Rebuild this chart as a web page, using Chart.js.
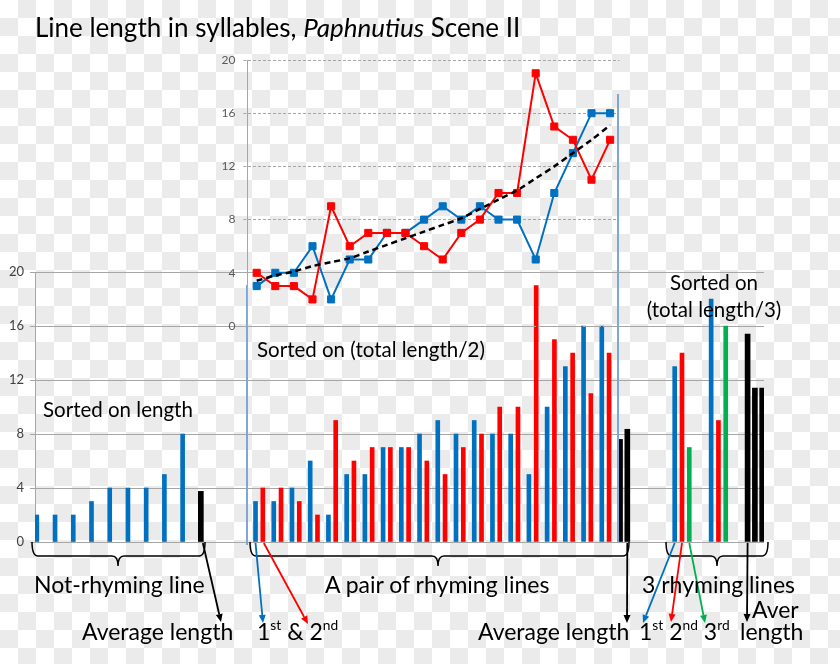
<!DOCTYPE html>
<html>
<head>
<meta charset="utf-8">
<title>Line length in syllables</title>
<script src="https://cdn.jsdelivr.net/npm/chart.js@4.4.1/dist/chart.umd.min.js"></script>
<style>
  html, body { margin: 0; padding: 0; }
  body {
    width: 840px; height: 664px; position: relative; overflow: hidden;
    background-color: #fff;
    background-image: conic-gradient(#ebebeb 0 25%, #fff 0 50%, #ebebeb 0 75%, #fff 0);
    background-size: 36px 36px;
    font-family: Lato, sans-serif; color: #000;
  }
  canvas { position: absolute; left: 0; top: 0; }
  .lab { position: absolute; white-space: nowrap; line-height: 1; }
  .big { font-size: 23px; }
  .mid { font-size: 20.5px; }
  sup { font-size: 0.6em; vertical-align: 0; position: relative; top: -0.7em; }
</style>
</head>
<body>
<canvas id="barChart" width="840" height="664"></canvas>
<canvas id="lineChart" width="840" height="664"></canvas>

<div class="lab" style="left:35px; top:14px; font-size:26px">Line length in syllables, <i>Paphnutius</i> Scene II</div>
<div class="lab mid" style="left:43px; top:399px">Sorted on length</div>
<div class="lab mid" style="left:257px; top:339px">Sorted on (total length/2)</div>
<div class="lab mid" style="left:634px; top:272px; width:160px; text-align:center">Sorted on</div>
<div class="lab mid" style="left:634px; top:299px; width:160px; text-align:center">(total length/3)</div>

<div class="lab big" style="left:34px; top:573px">Not-rhyming line</div>
<div class="lab big" style="left:325px; top:573px">A pair of rhyming lines</div>
<div class="lab big" style="left:642px; top:573px">3 rhyming lines</div>
<div class="lab big" style="left:82px; top:620px">Average length</div>
<div class="lab big" style="left:257px; top:620px">1<sup>st</sup> &amp; 2<sup>nd</sup></div>
<div class="lab big" style="left:478px; top:620px">Average length</div>
<div class="lab big" style="left:639px; top:620px">1<sup>st</sup> 2<sup>nd</sup> 3<sup>rd</sup></div>
<div class="lab big" style="left:752px; top:598px">Aver</div>
<div class="lab big" style="left:740px; top:620px">length</div>

<script>
// bar chart values (syllables)
const singleLines = [2, 2, 2, 3, 4, 4, 4, 5, 8]
const singleAvg = 3.75
const pairFirst = [3, 3, 4, 6, 2, 5, 5, 7, 7, 8, 9, 8, 9, 8, 8, 5, 10, 13, 16, 16]
const pairSecond = [4, 4, 3, 2, 9, 6, 7, 7, 7, 6, 5, 7, 8, 10, 10, 19, 15, 14, 11, 14]
const pairAvg = [7.6, 8.35]
const tripleFirst = [13, 18]
const tripleSecond = [14, 9]
const tripleThird = [7, 16]
const tripleAvg = [15.4, 11.4, 11.4]

// line chart values
const pairLabels = ["1", "2", "3", "4", "5", "6", "7", "8", "9", "10", "11", "12", "13", "14", "15", "16", "17", "18", "19", "20"]
const lineFirst = [3, 4, 4, 6, 2, 5, 5, 7, 7, 8, 9, 8, 9, 8, 8, 5, 10, 13, 16, 16]
const lineSecond = [4, 3, 3, 2, 9, 6, 7, 7, 7, 6, 5, 7, 8, 10, 10, 19, 15, 14, 11, 14]
const lineTrend = [3.4, 3.8, 4.1, 4.5, 4.8, 5.1, 5.6, 6.1, 6.6, 7.1, 7.6, 8.1, 8.8, 9.5, 10.2, 11.1, 12.0, 13.0, 14.0, 15.1]

const yTicks = [0, 4, 8, 12, 16, 20]

const BLUE = "#0070c0"
const RED = "#ff0000"
const GREEN = "#00b050"
const BLACK = "#000000"

Chart.defaults.font.family = "Lato"

// bottom chart: 200 narrow slots, groups placed in them
const SLOTS = 200
const slotLabels = []
for (let i = 0; i < SLOTS; i++) slotLabels.push("")

function emptySlots() {
    const arr = []
    for (let i = 0; i < SLOTS; i++) arr.push(null)
    return arr
}
const blueBars = emptySlots()
const redBars = emptySlots()
const greenBars = emptySlots()
const blackBars = emptySlots()

singleLines.forEach((v, k) => { blueBars[5 * k] = v })
blackBars[45] = singleAvg
pairFirst.forEach((v, k) => { blueBars[60 + 5 * k] = v })
pairSecond.forEach((v, k) => { redBars[62 + 5 * k] = v })
pairAvg.forEach((v, k) => { blackBars[160 + 2 * k] = v })
tripleFirst.forEach((v, k) => { blueBars[175 + 10 * k] = v })
tripleSecond.forEach((v, k) => { redBars[177 + 10 * k] = v })
tripleThird.forEach((v, k) => { greenBars[179 + 10 * k] = v })
tripleAvg.forEach((v, k) => { blackBars[195 + 2 * k] = v })

// arrows from the bars down to the labels
const arrows = [
    { slot: 45, dx: 2, to: [221, 622], color: BLACK },
    { slot: 60, dx: 0, to: [263, 623], color: BLUE },
    { slot: 62, dx: 1, to: [308, 624], color: RED },
    { slot: 162, dx: 0, to: [627, 623], color: BLACK },
    { slot: 175, dx: 0, to: [643, 623], color: BLUE },
    { slot: 177, dx: 0, to: [671, 622], color: RED },
    { slot: 179, dx: 0, to: [705, 623], color: GREEN },
    { slot: 195, dx: 0, to: [747, 622], color: BLACK }
]

function line(ctx, x1, y1, x2, y2) {
    ctx.beginPath()
    ctx.moveTo(x1, y1)
    ctx.lineTo(x2, y2)
    ctx.stroke()
}

function arrow(ctx, x1, y1, x2, y2, color) {
    const ang = Math.atan2(y2 - y1, x2 - x1)
    const len = 8, wid = 3.5
    const c = Math.cos(ang), s = Math.sin(ang)
    ctx.strokeStyle = color
    ctx.fillStyle = color
    ctx.lineWidth = 1.8
    line(ctx, x1, y1, x2 - c * len, y2 - s * len)
    ctx.beginPath()
    ctx.moveTo(x2, y2)
    ctx.lineTo(x2 - c * len - s * wid, y2 - s * len + c * wid)
    ctx.lineTo(x2 - c * len + s * wid, y2 - s * len - c * wid)
    ctx.closePath()
    ctx.fill()
}

function brace(ctx, x1, x2, tip, y0) {
    const h = 14, r = 6, t = 10
    const y1 = y0 + h
    ctx.beginPath()
    ctx.moveTo(x1, y0)
    ctx.quadraticCurveTo(x1, y1, x1 + r, y1)
    ctx.lineTo(tip - r, y1)
    ctx.quadraticCurveTo(tip, y1, tip, y1 + t)
    ctx.quadraticCurveTo(tip, y1, tip + r, y1)
    ctx.lineTo(x2 - r, y1)
    ctx.quadraticCurveTo(x2, y1, x2, y0)
    ctx.stroke()
}

const annotations = {
    id: "annotations",
    afterDraw(chart) {
        const ctx = chart.ctx
        const xs = chart.scales.x
        const base = chart.scales.y.getPixelForValue(0)
        ctx.save()
        ctx.strokeStyle = "#7ea6d8"
        ctx.lineWidth = 2
        line(ctx, 247, 285, 247, 545)
        line(ctx, 618, 94, 618, 542)

        ctx.strokeStyle = BLACK
        ctx.lineWidth = 1.5
        brace(ctx, 32, 205, 118, base)
        brace(ctx, 250, 629, 438, base)
        brace(ctx, 666, 768, 717, base)

        arrows.forEach(a => {
            arrow(ctx, xs.getPixelForValue(a.slot) + a.dx, base + 1, a.to[0], a.to[1], a.color)
        })
        ctx.restore()
    }
}

new Chart(document.getElementById("barChart"), {
    type: "bar",
    data: {
        labels: slotLabels,
        datasets: [
            { data: blueBars, backgroundColor: BLUE, barThickness: 4, grouped: false },
            { data: redBars, backgroundColor: RED, barThickness: 4, grouped: false },
            { data: greenBars, backgroundColor: GREEN, barThickness: 4, grouped: false },
            { data: blackBars, backgroundColor: BLACK, barThickness: 5, grouped: false }
        ]
    },
    options: {
        responsive: false,
        animation: false,
        layout: { padding: { left: 0, top: 272, right: 76, bottom: 122 } },
        plugins: { legend: { display: false }, tooltip: { enabled: false } },
        scales: {
            x: { display: false },
            y: {
                min: 0, max: 20,
                afterFit: s => { s.width = 35 },
                afterBuildTicks: s => { s.ticks = yTicks.map(v => ({ value: v })) },
                ticks: { color: "#404040", font: { size: 13 }, padding: 6 },
                grid: { color: "#a6a6a6", tickLength: 5 },
                border: { color: "#a6a6a6" }
            }
        }
    },
    plugins: [annotations]
})

new Chart(document.getElementById("lineChart"), {
    type: "line",
    data: {
        labels: pairLabels,
        datasets: [
            {
                data: lineTrend, borderColor: BLACK, borderWidth: 2.5, borderDash: [6, 4],
                pointRadius: 0, tension: 0.3, order: 0
            },
            {
                data: lineSecond, borderColor: RED, backgroundColor: RED, borderWidth: 2,
                pointStyle: "rect", pointRadius: 5, pointBorderWidth: 1, tension: 0, order: 1
            },
            {
                data: lineFirst, borderColor: BLUE, backgroundColor: BLUE, borderWidth: 2,
                pointStyle: "rect", pointRadius: 5, pointBorderWidth: 1, tension: 0, order: 2
            }
        ]
    },
    options: {
        responsive: false,
        animation: false,
        layout: { padding: { left: 217.4, top: 60, right: 220.6, bottom: 338 } },
        plugins: { legend: { display: false }, tooltip: { enabled: false } },
        scales: {
            x: { display: false, offset: true },
            y: {
                min: 0, max: 20,
                afterFit: s => { s.width = 30 },
                afterBuildTicks: s => { s.ticks = yTicks.map(v => ({ value: v })) },
                ticks: { color: "#595959", font: { size: 12 }, padding: 8 },
                grid: { color: "#a6a6a6", tickLength: 4, tickBorderDash: [3, 2] },
                border: { color: "#a6a6a6", dash: [3, 2] }
            }
        }
    }
})
</script>
</body>
</html>
